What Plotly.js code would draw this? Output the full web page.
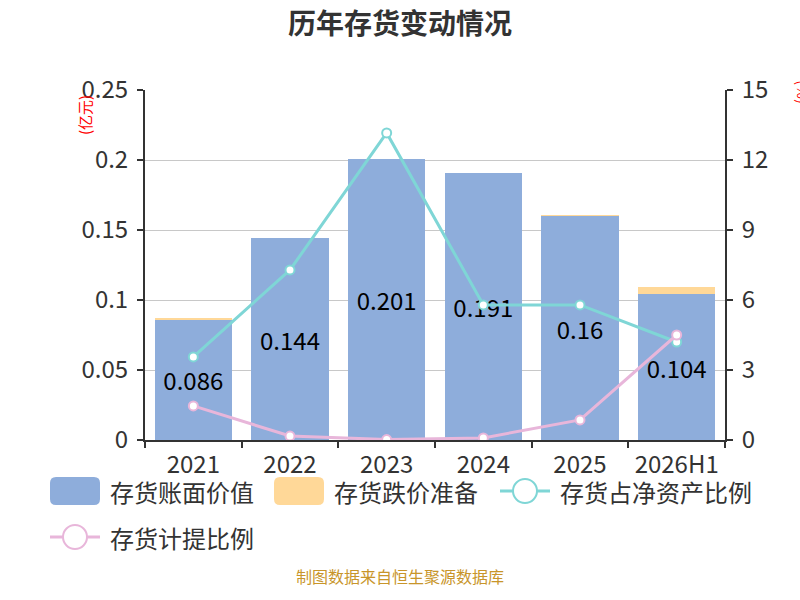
<!DOCTYPE html>
<html>
<head>
<meta charset="utf-8">
<script src="https://cdn.plot.ly/plotly-3.0.1.min.js"></script>
<style>
  body { margin: 0; background: #fff; }
  #chart { width: 800px; height: 600px; }
</style>
</head>
<body>
<div id="chart"></div>
<script>
const categories = ["2021", "2022", "2023", "2024", "2025", "2026H1"];
const bookValue = [0.086, 0.144, 0.201, 0.191, 0.16, 0.104];
const impairment = [0.001, 0, 0, 0, 0.001, 0.005];
const shareOfNetAssets = [3.56, 7.29, 13.16, 5.79, 5.79, 4.2];
const provisionRatio = [1.46, 0.17, 0.02, 0.09, 0.86, 4.5];
const leftTicks = [0, 0.05, 0.1, 0.15, 0.2, 0.25];
const leftTickText = ["0", "0.05", "0.1", "0.15", "0.2", "0.25"];
const rightTicks = [0, 3, 6, 9, 12, 15];

const names = ["存货账面价值", "存货跌价准备", "存货占净资产比例", "存货计提比例"];
const colors = ["#8eaddb", "#ffd898", "#7fd6d6", "#e8b6da"];
const font = "'Noto Sans CJK SC', 'Noto Sans', sans-serif";

// plot area in pixels
const L = 145, R = 725, T = 90, B = 440;

const trace_book = {
    name: names[0],
    x: categories,
    y: bookValue,
    type: "bar",
    yaxis: "y",
    marker: { color: colors[0] },
    text: bookValue.map(String),
    textposition: "inside",
    insidetextanchor: "middle",
    constraintext: "none",
    textfont: { color: "#000", size: 24, family: font },
    showlegend: false,
};
const trace_imp = {
    name: names[1],
    x: categories,
    y: impairment,
    type: "bar",
    yaxis: "y",
    marker: { color: colors[1] },
    showlegend: false,
};
const lineTrace = (i, ys) => ({
    name: names[i],
    x: categories,
    y: ys,
    type: "scatter",
    mode: "lines+markers",
    yaxis: "y2",
    line: { color: colors[i], width: 3 },
    marker: { color: "#fff", size: 9, line: { color: colors[i], width: 2 } },
    showlegend: false,
});

// paper coords are relative to the plot area
const px = (x) => (x - L) / (R - L);
const py = (y) => (B - y) / (B - T);

// hand-made legend, to get the big swatches of the original
const legendItems = [
    { kind: "box", x: 50, y: 491, text: names[0], color: colors[0] },
    { kind: "box", x: 274, y: 491, text: names[1], color: colors[1] },
    { kind: "line", x: 500, y: 491, text: names[2], color: colors[2] },
    { kind: "line", x: 50, y: 537, text: names[3], color: colors[3] },
];
let shapes = [];
let annotations = [];
legendItems.forEach((it) => {
    if (it.kind === "box") {
        shapes.push({
            type: "path", xref: "paper", yref: "paper",
            path: roundRect(it.x, it.y - 14, 50, 28, 6),
            fillcolor: it.color, line: { width: 0 },
        });
    } else {
        shapes.push({
            type: "line", xref: "paper", yref: "paper",
            x0: px(it.x), x1: px(it.x + 50), y0: py(it.y), y1: py(it.y),
            line: { color: it.color, width: 3 },
        });
        shapes.push({
            type: "circle", xref: "paper", yref: "paper",
            x0: px(it.x + 13), x1: px(it.x + 37), y0: py(it.y - 12), y1: py(it.y + 12),
            fillcolor: "#fff", line: { color: it.color, width: 2 },
        });
    }
    annotations.push({
        xref: "paper", yref: "paper", x: px(it.x + 58), y: py(it.y),
        xanchor: "left", yanchor: "middle", showarrow: false,
        text: it.text, font: { size: 24, color: "#333", family: font },
    });
});

function roundRect(x, y, w, h, r) {
    const X = (v) => px(v), Y = (v) => py(v);
    return `M${X(x + r)},${Y(y)} L${X(x + w - r)},${Y(y)} Q${X(x + w)},${Y(y)} ${X(x + w)},${Y(y + r)} ` +
        `L${X(x + w)},${Y(y + h - r)} Q${X(x + w)},${Y(y + h)} ${X(x + w - r)},${Y(y + h)} ` +
        `L${X(x + r)},${Y(y + h)} Q${X(x)},${Y(y + h)} ${X(x)},${Y(y + h - r)} ` +
        `L${X(x)},${Y(y + r)} Q${X(x)},${Y(y)} ${X(x + r)},${Y(y)} Z`;
}

annotations.push(
    {
        xref: "paper", yref: "paper", x: px(85), y: py(115),
        xanchor: "center", yanchor: "middle",
        text: "(亿元)", textangle: -90, showarrow: false,
        font: { size: 15, color: "#ff0000", family: font },
    },
    {
        xref: "paper", yref: "paper", x: px(803), y: py(92),
        xanchor: "center", yanchor: "middle",
        text: "(%)", textangle: 90, showarrow: false,
        font: { size: 15, color: "#ff0000", family: font },
    },
    {
        xref: "paper", yref: "paper", x: px(400), y: py(590),
        text: "制图数据来自恒生聚源数据库", showarrow: false,
        font: { size: 16, color: "#c8952a", family: font },
    }
);

const axisCommon = {
    fixedrange: true,
    showline: true,
    linecolor: "#333",
    linewidth: 2,
    ticks: "outside",
    ticklen: 6,
    tickwidth: 2,
    tickcolor: "#333",
    ticklabelstandoff: 4,
    tickfont: { size: 24, color: "#333", family: font },
};

let layout = {
    width: 800,
    height: 600,
    margin: { l: L, r: 800 - R, t: T, b: 600 - B },
    paper_bgcolor: "#fff",
    plot_bgcolor: "#fff",
    barmode: "stack",
    bargap: 0.2,
    showlegend: false,
    font: { family: font, color: "#333" },
    title: {
        text: "<b>历年存货变动情况</b>",
        x: 0.5, xanchor: "center",
        y: 1 - 24 / 600, yanchor: "middle",
        font: { size: 28, color: "#333", family: font },
    },
    xaxis: {
        ...axisCommon,
        type: "category",
        tickson: "boundaries",
        ticklabelstandoff: 2,
        showgrid: false,
    },
    yaxis: {
        ...axisCommon,
        range: [0, 0.25],
        tickvals: leftTicks,
        ticktext: leftTickText,
        showgrid: true,
        gridcolor: "#c8c8c8",
        gridwidth: 1,
        zeroline: false,
    },
    yaxis2: {
        ...axisCommon,
        overlaying: "y",
        side: "right",
        range: [0, 15],
        tickvals: rightTicks,
        showgrid: false,
        zeroline: false,
    },
    shapes: shapes,
    annotations: annotations,
};

let config = { responsive: false, displayModeBar: false, staticPlot: true };
let series = [trace_book, trace_imp, lineTrace(2, shareOfNetAssets), lineTrace(3, provisionRatio)];
Plotly.newPlot("chart", series, layout, config);
</script>
</body>
</html>
